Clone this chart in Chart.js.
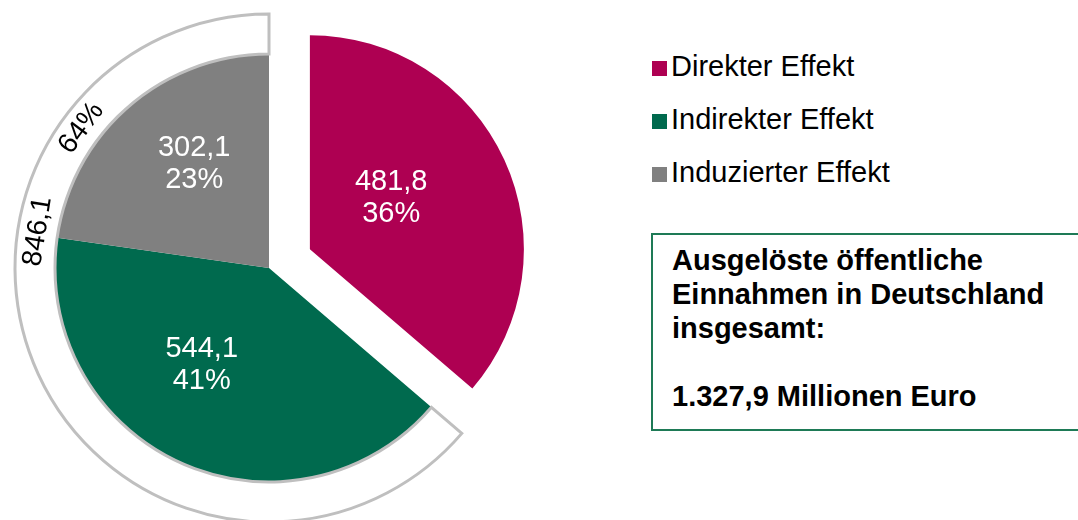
<!DOCTYPE html>
<html><head><meta charset="utf-8">
<script src="https://cdn.jsdelivr.net/npm/chart.js@4"></script>
<style>
html,body{margin:0;padding:0;background:#fff;width:1078px;height:520px;overflow:hidden;font-family:"Liberation Sans",Arial,sans-serif;}
#wrap{position:absolute;left:0;top:0;width:538px;height:536px;}
.leg{position:absolute;left:652px;height:34px;font-size:29px;line-height:34px;color:#000;white-space:nowrap;}
.leg i{position:absolute;left:0;top:12px;width:15px;height:15px;}
.leg span{position:absolute;left:19px;top:0;}
#box{position:absolute;left:651px;top:233px;width:480px;height:186px;border:2px solid #1e7a56;padding:8px 0 0 19px;box-sizing:content-box;font-weight:bold;font-size:29px;line-height:34px;color:#000;white-space:nowrap;}
</style>
</head><body>
<div id="wrap"><canvas id="c"></canvas></div>
<div id="legend"></div>
<div id="box"></div>
<script>
// ---- data ----
const categories = ['Direkter Effekt', 'Indirekter Effekt', 'Induzierter Effekt'];
const values = [481.8, 544.1, 302.1];
const ringValues = [481.8, 846.1];           // [gap (direct effect), indirect + induced]
const colors = ['#ae0052', '#006a4e', '#808080'];
const boxLines = ['Ausgelöste öffentliche', 'Einnahmen in Deutschland', 'insgesamt:', '', '1.327,9 Millionen Euro'];

const total = values.reduce((a, b) => a + b, 0);
const fmt = v => v.toFixed(1).replace('.', ',');
const pct = v => Math.round(v / total * 100) + '%';

// style: explode distance (px) of each slice along its bisector
const explode = [45, 0, 0];
// label placement (style): [radius fraction, angle shift in degrees from slice bisector]
const labelPlace = [[0.45, -7.7], [0.55, 10.5], [0.6, 5.3]];
// ring label angles (degrees clockwise from 12 o'clock)
const ringLabelAngles = [279, 306.7];

// legend
const leg = document.getElementById('legend');
categories.forEach((c, i) => {
  const d = document.createElement('div');
  d.className = 'leg';
  d.style.top = (49 + i * 53) + 'px';
  d.innerHTML = '<i style="background:' + colors[i] + '"></i><span>' + c + '</span>';
  leg.appendChild(d);
});
document.getElementById('box').innerHTML = boxLines.map(l => l === '' ? '&nbsp;' : l).join('<br>');

function shiftOf(arc, i) {
  const mid = (arc.startAngle + arc.endAngle) / 2;
  return [Math.cos(mid) * explode[i], Math.sin(mid) * explode[i]];
}

const explodePlugin = {
  id: 'explode',
  afterUpdate(chart) {
    const meta = chart.getDatasetMeta(1);
    meta.data.forEach((arc, i) => {
      if (!explode[i] || arc._exploded) return;
      const orig = arc.draw;
      arc.draw = function (ctx) {
        const [dx, dy] = shiftOf(this, i);
        ctx.save();
        ctx.translate(dx, dy);
        orig.call(this, ctx);
        ctx.restore();
      };
      arc._exploded = true;
    });
  }
};

const labelPlugin = {
  id: 'sliceLabels',
  afterDatasetsDraw(chart) {
    const ctx = chart.ctx;
    ctx.save();
    ctx.font = '29px "Liberation Sans", Arial, sans-serif';
    ctx.textAlign = 'center';
    ctx.textBaseline = 'middle';
    const pieMeta = chart.getDatasetMeta(1);
    pieMeta.data.forEach((arc, i) => {
      const [dx, dy] = shiftOf(arc, i);
      const mid = (arc.startAngle + arc.endAngle) / 2;
      const ox = arc.x + dx, oy = arc.y + dy;
      const a = mid + labelPlace[i][1] * Math.PI / 180;
      const r = arc.outerRadius * labelPlace[i][0];
      const cx = ox + Math.cos(a) * r, cy = oy + Math.sin(a) * r;
      ctx.fillStyle = '#ffffff';
      ctx.fillText(fmt(values[i]), cx, cy - 16);
      ctx.fillText(pct(values[i]), cx, cy + 16);
    });
    // ring labels
    const ring = chart.getDatasetMeta(0).data[1];
    const rm = (ring.innerRadius + ring.outerRadius) / 2;
    const ringTexts = [fmt(ringValues[1]), pct(ringValues[1])];
    ctx.font = '28px "Liberation Sans", Arial, sans-serif';
    ctx.fillStyle = '#000000';
    ringTexts.forEach((t, k) => {
      const deg = ringLabelAngles[k];
      const th = (deg - 90) * Math.PI / 180;
      ctx.save();
      ctx.translate(ring.x + Math.cos(th) * rm, ring.y + Math.sin(th) * rm);
      ctx.rotate(deg * Math.PI / 180);
      ctx.fillText(t, 0, 0);
      ctx.restore();
    });
    ctx.restore();
  }
};

new Chart(document.getElementById('c'), {
  type: 'doughnut',
  data: {
    labels: categories,
    datasets: [
      {
        data: ringValues,
        backgroundColor: ['rgba(0,0,0,0)', '#ffffff'],
        borderColor: ['rgba(0,0,0,0)', '#bfbfbf'],
        borderWidth: [0, 3],
        borderJoinStyle: 'miter',
        weight: 40
      },
      {
        data: values,
        backgroundColor: colors,
        borderWidth: 0,
        weight: 214
      }
    ]
  },
  options: {
    responsive: true,
    maintainAspectRatio: false,
    animation: false,
    events: [],
    radius: 254,
    cutout: 0,
    layout: { padding: 0 },
    plugins: { legend: { display: false }, tooltip: { enabled: false } }
  },
  plugins: [explodePlugin, labelPlugin]
});
</script>
</body></html>
